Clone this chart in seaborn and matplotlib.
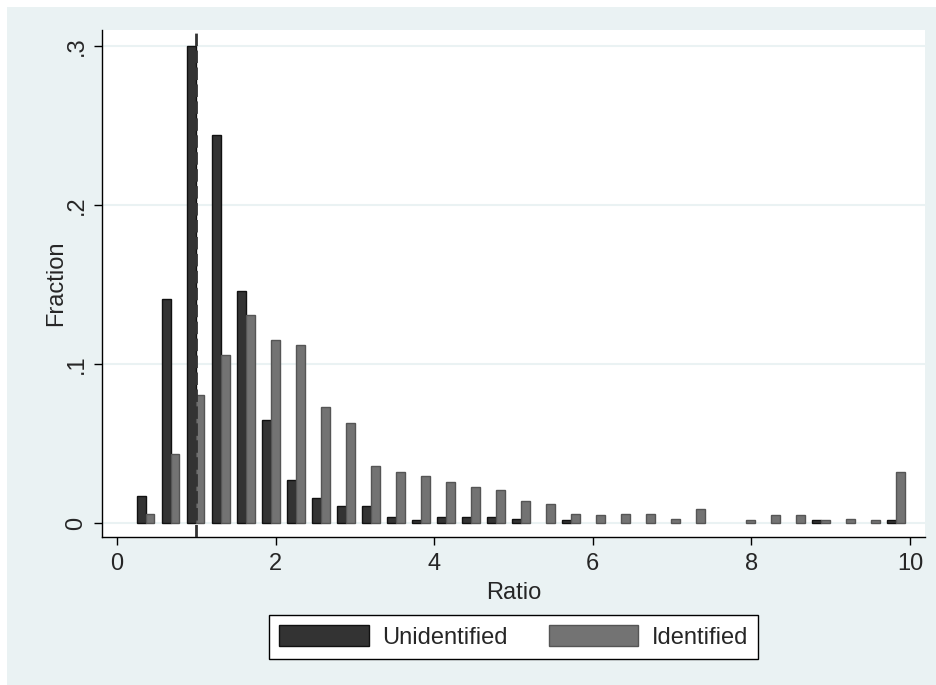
import matplotlib
matplotlib.use('Agg')
import matplotlib.pyplot as plt
from matplotlib.patches import Patch, Rectangle
import pandas as pd
import seaborn as sns

# bin centres of the ratio histogram (31 bins)
bin_centers = [0.362, 0.678, 0.993, 1.309, 1.624, 1.940, 2.255, 2.571, 2.886, 3.202,
               3.517, 3.833, 4.148, 4.464, 4.779, 5.095, 5.410, 5.726, 6.041, 6.357,
               6.672, 6.988, 7.303, 7.619, 7.934, 8.250, 8.565, 8.881, 9.196, 9.512,
               9.827]
unidentified = [0.017, 0.141, 0.300, 0.2445, 0.146, 0.065, 0.027, 0.016, 0.011, 0.011,
                0.004, 0.002, 0.004, 0.004, 0.004, 0.003, 0.0, 0.002, 0.0, 0.0,
                0.0, 0.0, 0.0, 0.0, 0.0, 0.0, 0.0, 0.002, 0.0, 0.0,
                0.002]
identified = [0.006, 0.0435, 0.081, 0.106, 0.131, 0.115, 0.112, 0.073, 0.063, 0.036,
              0.032, 0.030, 0.026, 0.023, 0.021, 0.014, 0.012, 0.006, 0.005, 0.006,
              0.006, 0.003, 0.009, 0.0, 0.002, 0.005, 0.005, 0.002, 0.003, 0.002,
              0.032]

groups = ['Unidentified', 'Identified']
fills = {'Unidentified': '#333333', 'Identified': '#737373'}
edges = {'Unidentified': '#111111', 'Identified': '#555555'}
y_ticks = [0, 0.1, 0.2, 0.3]
y_labels = ['0', '.1', '.2', '.3']
x_ticks = [0, 2, 4, 6, 8, 10]

n = len(bin_centers)
df = pd.DataFrame({
    'ratio': bin_centers * 2,
    'fraction': unidentified + identified,
    'group': ['Unidentified'] * n + ['Identified'] * n,
})
df = df[df['fraction'] > 0]

sns.set_style('white')
plt.rcParams['font.family'] = ['Liberation Sans', 'DejaVu Sans']
fs = 17
bg = '#EAF2F3'

W, H = 936, 685
fig = plt.figure(figsize=(W / 100, H / 100), dpi=100)
fig.patch.set_facecolor('white')
fig.add_artist(Rectangle((7 / W, 0), 1, 1 - 7 / H, transform=fig.transFigure,
                         facecolor=bg, edgecolor='none', zorder=-10))

ax = fig.add_axes([102 / W, 1 - 537 / H, (925 - 102) / W, (537 - 30) / H])
ax.set_facecolor('white')

sns.barplot(data=df, x='ratio', y='fraction', hue='group', hue_order=groups,
            palette=fills, native_scale=True, width=0.7, saturation=1,
            errorbar=None, linewidth=1, legend=False, ax=ax)

for p in ax.patches:
    r, g, b, _ = p.get_facecolor()
    p.set_edgecolor(edges['Unidentified'] if r < 0.3 else edges['Identified'])
    p.set_zorder(2)

ax.axvline(1, color='#333333', lw=2, ls=(0, (4.5, 1.6)), zorder=3)

ax.set_xlim(-0.189, 10.19)
ax.set_ylim(-0.0086, 0.3103)
ax.set_xticks(x_ticks)
ax.set_xticklabels([str(t) for t in x_ticks], fontsize=fs)
ax.set_yticks(y_ticks)
ax.set_yticklabels(y_labels, fontsize=fs, rotation=90, va='center', ha='right')

ax.yaxis.grid(True, color=bg, lw=1.5, zorder=0)
ax.xaxis.grid(False)
ax.set_axisbelow(True)

for s in ['top', 'right']:
    ax.spines[s].set_visible(False)
for s in ['left', 'bottom']:
    ax.spines[s].set_color('black')
    ax.spines[s].set_linewidth(1)

ax.tick_params(axis='both', direction='out', length=5.5, width=1, color='black',
               left=True, bottom=True)
ax.tick_params(axis='x', pad=6)
ax.tick_params(axis='y', pad=5)

ax.set_xlabel('Ratio', fontsize=fs, labelpad=5)
ax.set_ylabel('Fraction', fontsize=fs, labelpad=-1)

handles = [Patch(facecolor=fills[g], edgecolor=edges[g], lw=1) for g in groups]
leg = fig.legend(handles, groups, loc='center', bbox_to_anchor=(513.5 / W, 1 - 637 / H),
                 ncol=2, fontsize=fs, frameon=True, fancybox=False, framealpha=1,
                 edgecolor='black', facecolor='white', handlelength=3.8,
                 handleheight=1.0, handletextpad=0.55, columnspacing=1.75,
                 borderpad=0.45, borderaxespad=0)
leg.get_frame().set_linewidth(1)

fig.savefig('out.png', dpi=100, facecolor=fig.get_facecolor())
